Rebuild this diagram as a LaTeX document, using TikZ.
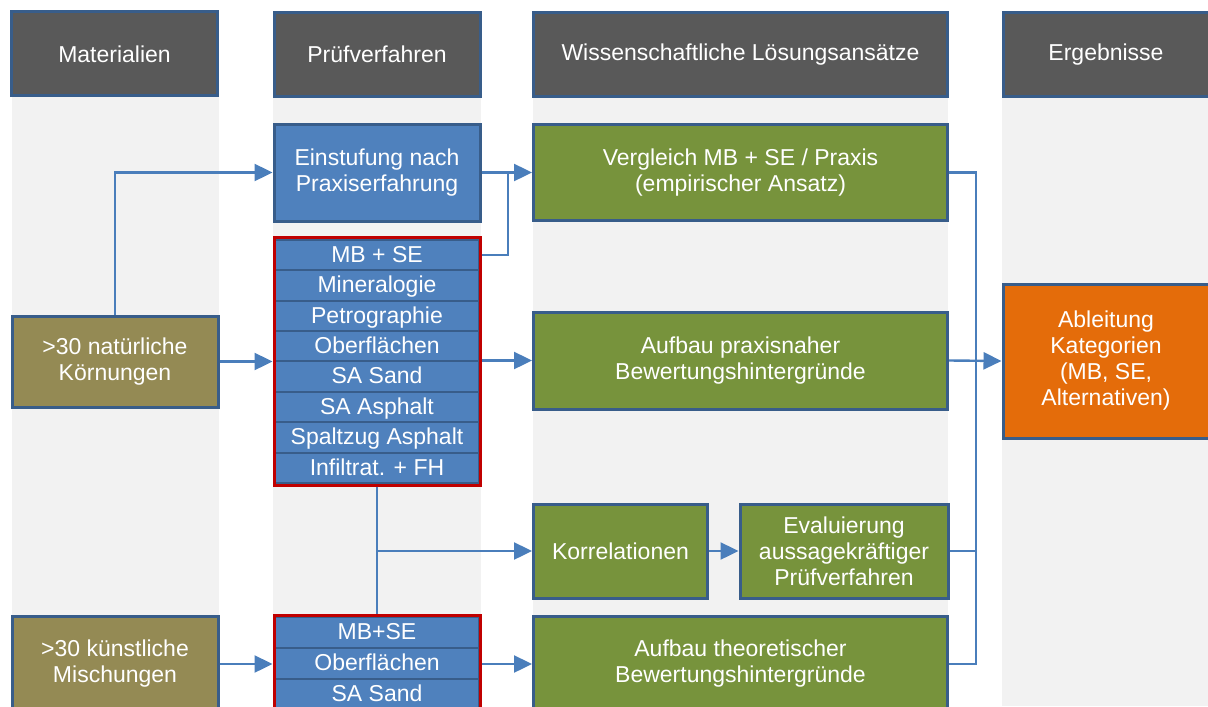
\documentclass[tikz,border=0pt]{standalone}
\usepackage{fontspec}
\setmainfont{Liberation Sans}
\usetikzlibrary{arrows.meta}
\definecolor{hdrgray}{HTML}{595959}
\definecolor{framblue}{HTML}{385D8A}
\definecolor{testblue}{HTML}{4F81BD}
\definecolor{wissgreen}{HTML}{77933C}
\definecolor{matolive}{HTML}{948A54}
\definecolor{ergorange}{HTML}{E46C0A}
\definecolor{stackred}{HTML}{C00000}
\definecolor{bggray}{HTML}{F2F2F2}
\definecolor{lineblue}{HTML}{4A7EBB}

\begin{document}
\begin{tikzpicture}[x=0.5pt,y=-0.5pt,inner sep=0pt,
  font=\fontsize{11.5}{13}\selectfont,
  box/.style={draw=framblue,line width=1.5pt,text=white,align=center},
  hdr/.style={box,fill=hdrgray,minimum width=103pt,minimum height=42pt},
  matbox/.style={box,fill=matolive,minimum width=103pt},
  testbox/.style={box,fill=testblue,minimum width=103pt},
  wissbox/.style={box,fill=wissgreen},
  ergbox/.style={box,fill=ergorange,minimum width=103pt},
  row/.style={draw=framblue,line width=1pt,fill=testblue,text=white,minimum width=102pt,
    text height=0.9em,text depth=0.18em},
  stackframe/.style={draw=stackred,line width=1.5pt,minimum width=103pt},
  conn/.style={draw=lineblue,line width=1.2pt},
  arr/.style={conn,-{Triangle[length=9pt,width=8.5pt]}}]
\useasboundingbox (0,0) rectangle (1208,706);

% columns
\fill[bggray] (12,95) rectangle (219,706);
\fill[bggray] (273,95) rectangle (481,706);
\fill[bggray] (533,95) rectangle (948,706);
\fill[bggray] (1002,95) rectangle (1208,706);

\node[hdr] (hmat) at (114.5,54) {Materialien};
\node[hdr] (hpruef) at (377,54.5) {Prüfverfahren};
\node[hdr,minimum width=207pt] (hwiss) at (740.5,54.5) {Wissenschaftliche Lösungsansätze};
\node[hdr] (herg) at (1106,54.5) {Ergebnisse};

% Materialien
\node[matbox,minimum height=45.5pt] (nat) at (115,361.5) {>30 natürliche\\Körnungen};
\node[matbox,minimum height=48pt] (kuenst) at (115,664) {>30 künstliche\\Mischungen};

% Pruefverfahren
\node[testbox,minimum height=48.5pt] (einst) at (377,172.5) {Einstufung nach\\Praxiserfahrung};

\node[row,minimum height=15.2pt] (r1) at (377,255) {MB + SE};
\node[row,minimum height=15.2pt] (r2) at (377,285.4) {Mineralogie};
\node[row,minimum height=15.2pt] (r3) at (377,315.8) {Petrographie};
\node[row,minimum height=15.2pt] (r4) at (377,346.2) {Oberflächen};
\node[row,minimum height=15.2pt] (r5) at (377,376.6) {SA Sand};
\node[row,minimum height=15.2pt] (r6) at (377,407) {SA Asphalt};
\node[row,minimum height=15.2pt] (r7) at (377,437.4) {Spaltzug Asphalt};
\node[row,minimum height=15.2pt] (r8) at (377,467.8) {Infiltrat. + FH};
\node[stackframe,minimum height=124pt] (s1) at (377,361) {};

\node[row,minimum height=15.5pt] (q1) at (377,632.5) {MB+SE};
\node[row,minimum height=15.5pt] (q2) at (377,663.5) {Oberflächen};
\node[row,minimum height=15.5pt] (q3) at (377,694.5) {SA Sand};
\node[stackframe,minimum height=52.5pt] (s2) at (377,667.5) {};

% Loesungsansaetze
\node[wissbox,minimum width=207pt,minimum height=48pt] (vergl) at (740.5,172.5) {Vergleich MB + SE / Praxis\\(empirischer Ansatz)};
\node[wissbox,minimum width=207pt,minimum height=48.5pt] (aufbp) at (740.5,360.5) {Aufbau praxisnaher\\Bewertungshintergründe};
\node[wissbox,minimum width=87pt,minimum height=47pt] (korr) at (620.5,551) {Korrelationen};
\node[wissbox,minimum width=104pt,minimum height=47pt] (eval) at (844,551) {Evaluierung\\aussagekräftiger\\Prüfverfahren};
\node[wissbox,minimum width=207pt,minimum height=48pt] (aufbt) at (740.5,664) {Aufbau theoretischer\\Bewertungshintergründe};

% Ergebnisse
\node[ergbox,minimum height=77pt] (ableit) at (1106,361) {Ableitung\\Kategorien\\(MB, SE,\\Alternativen)};

% connectors
\coordinate (j) at (508,172.5);
\coordinate (bt) at (976,172.5);
\coordinate (bb) at (976,664);

\draw[arr] (nat.north) |- (einst.west);
\draw[arr] (nat.east) -- (nat.east -| s1.west);
\draw[arr] (einst.east) -- (vergl.west);
\draw[conn] (s1.east |- r1.east) -| (j);
\draw[arr] (s1.east |- aufbp.west) -- (aufbp.west);
\draw[conn] (s1.south) -- (s2.north);
\draw[arr] (s1.south |- korr.west) -- (korr.west);
\draw[arr] (korr.east) -- (eval.west);
\draw[arr] (kuenst.east) -- (kuenst.east -| s2.west);
\draw[arr] (s2.east |- aufbt.west) -- (aufbt.west);

\draw[conn] (vergl.east) -- (bt) -- (bb) -- (aufbt.east);
\draw[conn] (eval.east) -- (eval.east -| bt);
\draw[arr] (aufbp.east) -- (ableit.west);
\end{tikzpicture}
\end{document}
